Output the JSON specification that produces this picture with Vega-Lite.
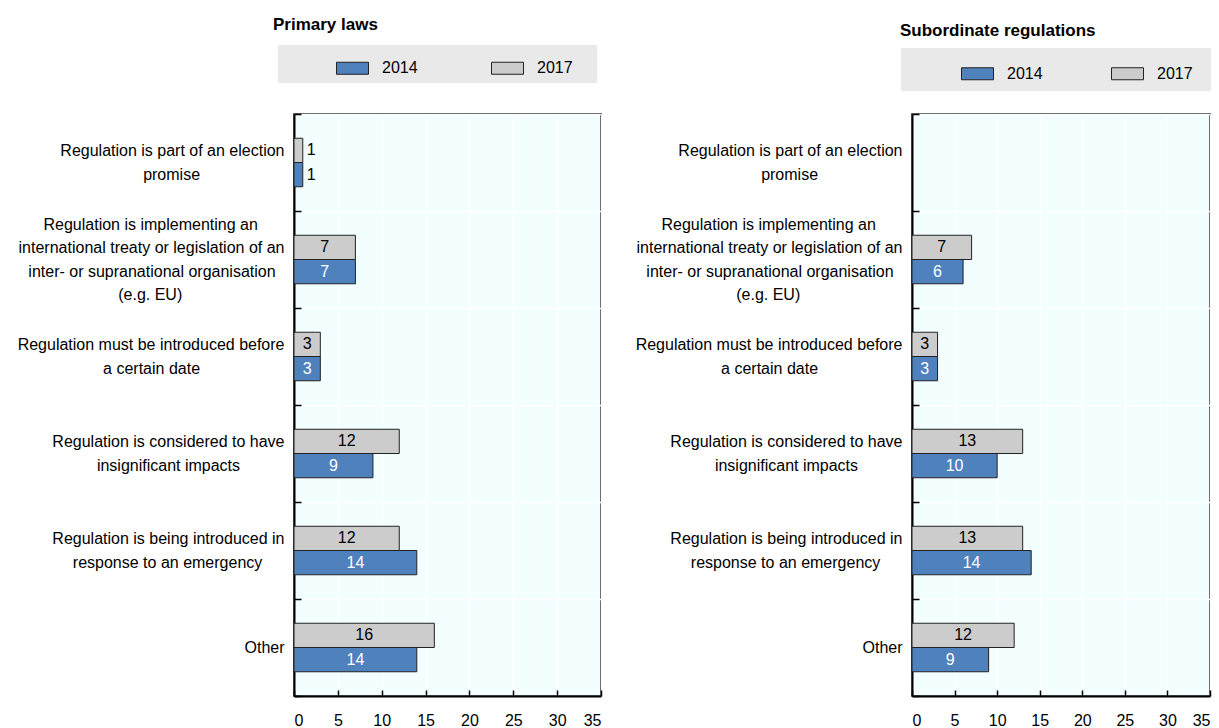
{
  "$schema": "https://vega.github.io/schema/vega-lite/v6.json",
  "padding": {"left": 16, "top": 15, "right": 0, "bottom": 0},
  "background": "white",
  "config": {
    "font": "Liberation Sans",
    "view": {"fill": "#F2FEFF", "stroke": "#000", "strokeWidth": 1.5},
    "concat": {"spacing": 31},
    "axisY": {
      "title": null,
      "domainColor": "#000", "domainWidth": 2,
      "tickColor": "#000", "tickSize": -7, "tickWidth": 1.5, "tickBand": "extent",
      "grid": true, "gridColor": "white", "gridWidth": 1.5,
      "labelFontSize": 16, "labelColor": "#000", "labelLineHeight": 11.75,
      "labelBaseline": "middle", "labelOffset": -35.25,
      "labelPadding": 17, "labelLimit": 400,
      "labelExpr": "datum.label == 'Other' ? ['\u200b', '\u200b', '\u200b', 'Other'] : indexof(datum.label, 'election') >= 0 ? ['\u200b', '\u200b', 'Regulation is part of an election', '\u200b', 'promise\u00a0\u00a0\u00a0\u00a0\u00a0\u00a0\u00a0\u00a0\u00a0\u00a0\u00a0\u00a0\u00a0\u00a0\u00a0\u00a0\u00a0\u00a0\u00a0\u200b'] : indexof(datum.label, 'treaty') >= 0 ? ['Regulation is implementing an\u00a0\u00a0\u00a0\u00a0\u00a0\u00a0\u200b', '\u200b', 'international treaty or legislation of an', '\u200b', 'inter- or supranational organisation\u00a0\u00a0\u200b', '\u200b', '(e.g. EU)\u00a0\u00a0\u00a0\u00a0\u00a0\u00a0\u00a0\u00a0\u00a0\u00a0\u00a0\u00a0\u00a0\u00a0\u00a0\u00a0\u00a0\u00a0\u00a0\u00a0\u00a0\u00a0\u00a0\u200b'] : indexof(datum.label, 'certain date') >= 0 ? ['\u200b', '\u200b', 'Regulation must be introduced before', '\u200b', 'a certain date\u00a0\u00a0\u00a0\u00a0\u00a0\u00a0\u00a0\u00a0\u00a0\u00a0\u00a0\u00a0\u00a0\u00a0\u00a0\u00a0\u00a0\u00a0\u00a0\u200b'] : indexof(datum.label, 'insignificant') >= 0 ? ['\u200b', '\u200b', 'Regulation is considered to have', '\u200b', 'insignificant impacts\u00a0\u00a0\u00a0\u00a0\u00a0\u00a0\u00a0\u00a0\u00a0\u00a0\u200b'] : indexof(datum.label, 'emergency') >= 0 ? ['\u200b', '\u200b', 'Regulation is being introduced in', '\u200b', 'response to an emergency\u00a0\u00a0\u00a0\u00a0\u00a0\u200b'] : ''"
    },
    "axisX": {
      "title": null, "values": [0, 5, 10, 15, 20, 25, 30, 35],
      "grid": true, "gridColor": "white", "gridWidth": 1.5,
      "domainColor": "#000", "domainWidth": 2,
      "tickColor": "#000", "tickSize": -6, "tickWidth": 1.5,
      "labelFontSize": 16, "labelColor": "#000", "labelPadding": 22
    },
    "legend": {
      "orient": "none", "direction": "horizontal", "title": null,
      "fillColor": "#E9E9E9",
      "symbolType": "M-1,-0.375H1V0.375H-1Z", "symbolSize": 1024,
      "symbolStrokeColor": "#222", "symbolStrokeWidth": 1,
      "labelFontSize": 16, "labelOffset": 13, "labelColor": "#000"
    }
  },
  "datasets": {
    "primary": [
      {"category": "Regulation is part of an election promise", "year": "2014", "value": 1},
      {"category": "Regulation is part of an election promise", "year": "2017", "value": 1},
      {"category": "Regulation is implementing an international treaty or legislation of an inter- or supranational organisation (e.g. EU)", "year": "2014", "value": 7},
      {"category": "Regulation is implementing an international treaty or legislation of an inter- or supranational organisation (e.g. EU)", "year": "2017", "value": 7},
      {"category": "Regulation must be introduced before a certain date", "year": "2014", "value": 3},
      {"category": "Regulation must be introduced before a certain date", "year": "2017", "value": 3},
      {"category": "Regulation is considered to have insignificant impacts", "year": "2014", "value": 9},
      {"category": "Regulation is considered to have insignificant impacts", "year": "2017", "value": 12},
      {"category": "Regulation is being introduced in response to an emergency", "year": "2014", "value": 14},
      {"category": "Regulation is being introduced in response to an emergency", "year": "2017", "value": 12},
      {"category": "Other", "year": "2014", "value": 14},
      {"category": "Other", "year": "2017", "value": 16}
    ],
    "subordinate": [
      {"category": "Regulation is implementing an international treaty or legislation of an inter- or supranational organisation (e.g. EU)", "year": "2014", "value": 6},
      {"category": "Regulation is implementing an international treaty or legislation of an inter- or supranational organisation (e.g. EU)", "year": "2017", "value": 7},
      {"category": "Regulation must be introduced before a certain date", "year": "2014", "value": 3},
      {"category": "Regulation must be introduced before a certain date", "year": "2017", "value": 3},
      {"category": "Regulation is considered to have insignificant impacts", "year": "2014", "value": 10},
      {"category": "Regulation is considered to have insignificant impacts", "year": "2017", "value": 13},
      {"category": "Regulation is being introduced in response to an emergency", "year": "2014", "value": 14},
      {"category": "Regulation is being introduced in response to an emergency", "year": "2017", "value": 13},
      {"category": "Other", "year": "2014", "value": 9},
      {"category": "Other", "year": "2017", "value": 12}
    ]
  },
  "hconcat": [
    {
      "title": {"text": "Primary laws", "anchor": "start", "frame": "group", "dx": -21, "fontSize": 17, "fontWeight": "bold", "color": "#000", "offset": 11},
      "width": 307, "height": 582,
      "data": {"name": "primary"},
      "encoding": {
        "y": {"field": "category", "type": "nominal", "scale": {"domain": [
          "Regulation is part of an election promise",
          "Regulation is implementing an international treaty or legislation of an inter- or supranational organisation (e.g. EU)",
          "Regulation must be introduced before a certain date",
          "Regulation is considered to have insignificant impacts",
          "Regulation is being introduced in response to an emergency",
          "Other"], "paddingInner": 0, "paddingOuter": 0}},
        "yOffset": {"field": "year", "type": "nominal", "sort": ["2017", "2014"], "scale": {"paddingOuter": 1, "paddingInner": 0}}
      },
      "layer": [
        {
          "mark": {"type": "bar", "stroke": "#222", "strokeWidth": 1},
          "encoding": {
            "x": {"field": "value", "type": "quantitative", "scale": {"domain": [0, 35]}},
            "color": {"field": "year", "type": "nominal", "scale": {"domain": ["2014", "2017"], "range": ["#4F81BD", "#CCCCCC"]},
              "legend": {"legendX": -16, "legendY": -69, "padding": 6.5, "symbolOffset": 51.5, "columnPadding": 4, "labelExpr": "datum.label + '\u00a0\u00a0\u00a0\u00a0\u200b'"}}
          }
        },
        {
          "transform": [{"filter": "datum.value < 2"}],
          "mark": {"type": "text", "fontSize": 16, "align": "left", "dx": 4, "color": "#000"},
          "encoding": {
            "x": {"field": "value", "type": "quantitative", "scale": {"domain": [0, 35]}, "axis": null},
            "text": {"field": "value", "type": "quantitative"}
          }
        },
        {
          "transform": [{"filter": "datum.value >= 2"}],
          "mark": {"type": "text", "fontSize": 16},
          "encoding": {
            "x": {"field": "value", "type": "quantitative", "scale": {"domain": [0, 70]}, "axis": null},
            "text": {"field": "value", "type": "quantitative"},
            "color": {"condition": {"test": "datum.year === '2014'", "value": "white"}, "value": "#000"}
          }
        }
      ],
      "resolve": {"scale": {"x": "independent"}}
    },
    {
      "title": {"text": "Subordinate regulations", "anchor": "start", "frame": "group", "dx": -12, "fontSize": 17, "fontWeight": "bold", "color": "#000", "offset": 8},
      "width": 298, "height": 582,
      "data": {"name": "subordinate"},
      "encoding": {
        "y": {"field": "category", "type": "nominal", "scale": {"domain": [
          "Regulation is part of an election promise",
          "Regulation is implementing an international treaty or legislation of an inter- or supranational organisation (e.g. EU)",
          "Regulation must be introduced before a certain date",
          "Regulation is considered to have insignificant impacts",
          "Regulation is being introduced in response to an emergency",
          "Other"], "paddingInner": 0, "paddingOuter": 0}},
        "yOffset": {"field": "year", "type": "nominal", "sort": ["2017", "2014"], "scale": {"paddingOuter": 1, "paddingInner": 0}}
      },
      "layer": [
        {
          "mark": {"type": "bar", "stroke": "#222", "strokeWidth": 1},
          "encoding": {
            "x": {"field": "value", "type": "quantitative", "scale": {"domain": [0, 35]}},
            "color": {"field": "year", "type": "nominal", "scale": {"domain": ["2014", "2017"], "range": ["#4F81BD", "#CCCCCC"]},
              "legend": {"legendX": -11, "legendY": -66, "padding": 9, "symbolOffset": 51, "columnPadding": 8, "labelExpr": "datum.label + '\u00a0\u00a0\u200b'"}}
          }
        },
        {
          "mark": {"type": "text", "fontSize": 16},
          "encoding": {
            "x": {"field": "value", "type": "quantitative", "scale": {"domain": [0, 70]}, "axis": null},
            "text": {"field": "value", "type": "quantitative"},
            "color": {"condition": {"test": "datum.year === '2014'", "value": "white"}, "value": "#000"}
          }
        }
      ],
      "resolve": {"scale": {"x": "independent"}}
    }
  ],
  "resolve": {"scale": {"color": "independent"}, "legend": {"color": "independent"}}
}
